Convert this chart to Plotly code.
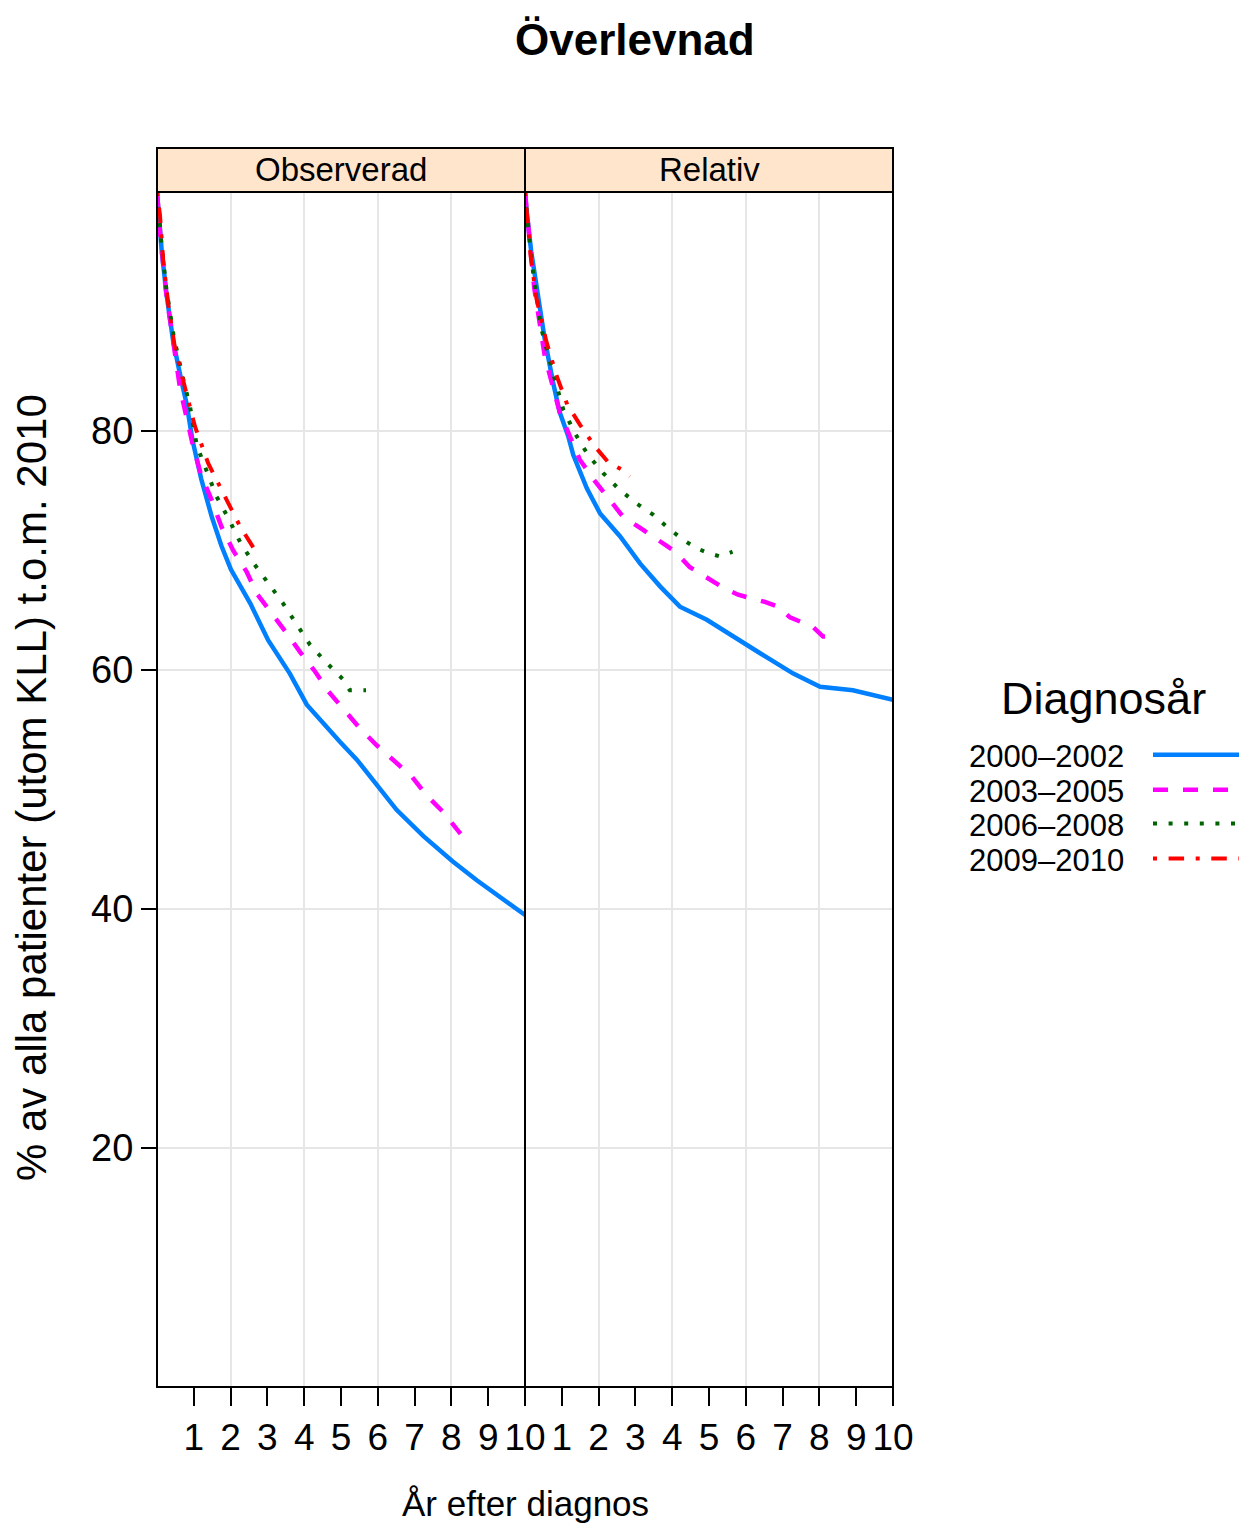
import plotly.graph_objects as go

# ---------------- data ----------------
PANELS = ["Observerad", "Relativ"]
SERIES = ["2000–2002", "2003–2005", "2006–2008", "2009–2010"]
X_TICKS = [1, 2, 3, 4, 5, 6, 7, 8, 9, 10]
X_GRID = [2, 4, 6, 8]
Y_TICKS = [20, 40, 60, 80]

# Observerad
obs_t_2000 = [0, 0.05, 0.13, 0.26, 0.44, 0.67, 0.81, 0.96, 1.2, 1.49, 1.75, 2.01, 2.53, 3.02, 3.61,
              4.07, 4.52, 4.97, 5.43, 6.01, 6.51, 7.24, 8.03, 8.69, 9.41, 10.0]
obs_v_2000 = [100, 97.5, 95.0, 91.4, 87.5, 84.1, 82.2, 79.3, 76.0, 72.8, 70.4, 68.4, 65.6, 62.5, 59.7,
              57.1, 55.5, 54.0, 52.5, 50.2, 48.3, 46.1, 44.0, 42.4, 40.8, 39.5]
obs_t_2003 = [0, 0.1, 0.25, 0.45, 0.63, 0.99, 1.21, 1.49, 1.75, 2.07, 2.44, 2.71, 3.12, 3.52, 3.89,
              4.29, 4.66, 5.07, 5.52, 5.97, 6.42, 6.92, 7.33, 7.78, 8.14, 8.25]
obs_v_2003 = [100, 96.0, 91.5, 87.0, 83.5, 78.6, 76.2, 74.2, 72.0, 70.0, 68.2, 66.4, 64.8, 63.1, 61.5,
              59.9, 58.2, 56.7, 55.1, 53.7, 52.5, 51.1, 49.5, 48.1, 46.7, 46.3]
obs_t_2006 = [0, 0.1, 0.25, 0.45, 0.7, 0.9, 1.08, 1.35, 1.62, 1.94, 2.26, 2.61, 3.02, 3.42, 3.8,
              4.16, 4.61, 5.06, 5.24, 5.68]
obs_v_2006 = [100, 96.3, 92.0, 88.0, 84.5, 82.0, 78.8, 76.6, 74.5, 72.7, 70.7, 69.0, 67.3, 65.6, 63.8,
              62.1, 60.6, 59.2, 58.3, 58.3]
obs_t_2009 = [0, 0.08, 0.17, 0.31, 0.49, 0.76, 1.03, 1.39, 1.85, 2.26, 2.75]
obs_v_2009 = [100, 98.1, 94.2, 90.5, 86.9, 83.6, 80.4, 77.3, 74.5, 72.0, 69.6]

# Relativ
rel_t_2000 = [0, 0.04, 0.17, 0.35, 0.53, 0.76, 0.94, 1.17, 1.31, 1.68, 2.04, 2.58, 3.13, 3.67, 4.21,
              4.94, 5.65, 6.39, 7.29, 8.02, 8.91, 9.5, 10.0]
rel_v_2000 = [100, 98.5, 95.0, 91.4, 87.8, 84.1, 81.6, 79.6, 78.0, 75.2, 73.1, 71.2, 68.9, 67.0, 65.3,
              64.2, 62.8, 61.4, 59.7, 58.6, 58.3, 57.9, 57.5]
rel_t_2003 = [0, 0.1, 0.25, 0.54, 0.95, 1.49, 1.90, 2.26, 2.67, 3.13, 3.58, 4.08, 4.48, 4.94, 5.38,
              5.79, 6.16, 6.52, 6.88, 7.2, 7.52, 7.83, 8.1, 8.51]
rel_v_2003 = [100, 96.5, 92.0, 86.2, 81.5, 77.6, 75.8, 74.4, 72.8, 71.9, 70.9, 69.9, 68.6, 67.7, 66.9,
              66.3, 66.0, 65.7, 65.3, 64.4, 64.0, 63.6, 62.8, 62.8]
rel_t_2006 = [0, 0.1, 0.25, 0.45, 0.72, 1.04, 1.36, 1.71, 2.12, 2.53, 3.0, 3.48, 3.85, 4.29, 4.66,
              4.97, 5.3, 5.64]
rel_v_2006 = [100, 96.5, 92.5, 88.5, 85.3, 81.8, 79.8, 78.0, 76.5, 75.2, 74.0, 73.0, 72.0, 70.9, 70.2,
              69.8, 69.5, 69.9]
rel_t_2009 = [0, 0.04, 0.155, 0.31, 0.58, 0.85, 1.15, 1.5, 1.9, 2.26, 2.67, 2.85]
rel_v_2009 = [100, 98.4, 94.6, 91.1, 87.5, 84.7, 82.2, 80.5, 78.7, 77.4, 76.7, 76.2]

# ---------------- styling ----------------
COLORS = ["#0080ff", "#ff00ff", "#006400", "#ff0000"]
DASHES = ["solid", "15px,15px", "4px,11.6px", "4px,11.6px,15.5px,11.6px"]
WIDTHS = [4.5, 4.5, 4, 4]
FONT = "Liberation Sans, Arial, Helvetica, sans-serif"

OFF = 8  # page body margin in the browser
W, H = 1247 - OFF, 1531 - OFF
L, R, T, B = 157 - OFF, 354, 148 - OFF, 144
PLOT_TOP_PX = 192 - OFF
PW = W - L - R
PH = H - T - B


def px_x(px):
    return (px - OFF - L) / PW


def px_y(py):
    return (H - B - (py - OFF)) / PH


y_top = (H - B - PLOT_TOP_PX) / PH

panel_data = {
    "Observerad": [(obs_t_2000, obs_v_2000), (obs_t_2003, obs_v_2003),
                   (obs_t_2006, obs_v_2006), (obs_t_2009, obs_v_2009)],
    "Relativ": [(rel_t_2000, rel_v_2000), (rel_t_2003, rel_v_2003),
                (rel_t_2006, rel_v_2006), (rel_t_2009, rel_v_2009)],
}

fig = go.Figure()
for pi, panel in enumerate(PANELS):
    xa = "x" if pi == 0 else "x2"
    for si, (t, v) in enumerate(panel_data[panel]):
        fig.add_trace(go.Scatter(
            x=t, y=v, xaxis=xa, yaxis="y", mode="lines", name=SERIES[si],
            showlegend=False,
            line=dict(color=COLORS[si], width=WIDTHS[si], dash=DASHES[si]),
        ))

xcommon = dict(range=[0, 10], tickmode="array", tickvals=X_TICKS, ticks="outside",
               ticklen=18, tickwidth=2, tickcolor="black", showgrid=False, zeroline=False,
               showline=False, tickfont=dict(family=FONT, size=37, color="black"),
               minor=dict(tickmode="array", tickvals=X_GRID, ticks="", showgrid=True,
                          gridcolor="#e6e6e6", gridwidth=2),
               anchor="y", fixedrange=True)
fig.update_layout(
    xaxis=dict(domain=[0, 0.5], **xcommon),
    xaxis2=dict(domain=[0.5, 1], **xcommon),
    xaxis3=dict(overlaying="x", side="top", anchor="free", position=1.0, range=[0, 10],
                tickmode="array", tickvals=X_TICKS, ticks="outside", ticklen=18, tickwidth=2,
                tickcolor="black", showticklabels=False, showgrid=False, zeroline=False),
    xaxis4=dict(overlaying="x2", side="top", anchor="free", position=1.0, range=[0, 10],
                tickmode="array", tickvals=X_TICKS, ticks="outside", ticklen=18, tickwidth=2,
                tickcolor="black", showticklabels=False, showgrid=False, zeroline=False),
    yaxis=dict(domain=[0, y_top], range=[0, 100], tickmode="array", tickvals=Y_TICKS,
               ticks="outside", ticklen=15, tickwidth=2, tickcolor="black", showgrid=True,
               gridcolor="#e6e6e6", gridwidth=2, zeroline=False, showline=False,
               tickfont=dict(family=FONT, size=38, color="black"), anchor="x"),
    yaxis2=dict(overlaying="y", side="right", anchor="x2", range=[0, 100], tickmode="array",
                tickvals=Y_TICKS, ticks="outside", ticklen=15, tickwidth=2, tickcolor="black",
                showticklabels=False, showgrid=False, zeroline=False),
    width=W, height=H, margin=dict(l=L, r=R, t=T, b=B),
    paper_bgcolor="white", plot_bgcolor="white", showlegend=False,
)

shapes = []
annotations = []
for pi, panel in enumerate(PANELS):
    x0, x1 = pi * 0.5, (pi + 1) * 0.5
    shapes.append(dict(type="rect", xref="paper", yref="paper", x0=x0, x1=x1, y0=y_top, y1=1,
                       fillcolor="#ffe5cc", line=dict(color="black", width=2), layer="below"))
    shapes.append(dict(type="rect", xref="paper", yref="paper", x0=x0, x1=x1, y0=y_top, y1=1,
                       fillcolor="rgba(0,0,0,0)", line=dict(color="black", width=2)))
    shapes.append(dict(type="rect", xref="paper", yref="paper", x0=x0, x1=x1, y0=0, y1=y_top,
                       fillcolor="rgba(0,0,0,0)", line=dict(color="black", width=2)))
    annotations.append(dict(text=panel, xref="paper", yref="paper", x=(x0 + x1) / 2,
                            y=(y_top + 1) / 2, showarrow=False, xanchor="center", yanchor="middle",
                            font=dict(family=FONT, size=33, color="black")))

annotations.append(dict(text="<b>Överlevnad</b>", xref="paper", yref="paper", x=px_x(635),
                        y=px_y(40), showarrow=False, xanchor="center", yanchor="middle",
                        font=dict(family=FONT, size=44, color="black")))
annotations.append(dict(text="År efter diagnos", xref="paper", yref="paper", x=px_x(525),
                        y=px_y(1503), showarrow=False, xanchor="center", yanchor="middle",
                        font=dict(family=FONT, size=35, color="black")))
annotations.append(dict(text="% av alla patienter (utom KLL) t.o.m. 2010", xref="paper",
                        yref="paper", x=px_x(31), y=px_y(788), showarrow=False, textangle=-90,
                        xanchor="center", yanchor="middle",
                        font=dict(family=FONT, size=42, color="black")))

# legend (key drawn to the right of the labels, as in the reference)
annotations.append(dict(text="Diagnosår", xref="paper", yref="paper", x=px_x(1103),
                        y=px_y(698), showarrow=False, xanchor="center", yanchor="middle",
                        font=dict(family=FONT, size=45, color="black")))
leg_text_y = [756.7, 791.7, 825.5, 860.5]
for si, name in enumerate(SERIES):
    annotations.append(dict(text=name, xref="paper", yref="paper", x=px_x(967),
                            y=px_y(leg_text_y[si]), showarrow=False, xanchor="left",
                            yanchor="middle", font=dict(family=FONT, size=31, color="black")))
    shapes.append(dict(type="line", xref="paper", yref="paper", x0=px_x(1153), x1=px_x(1240),
                       y0=px_y(leg_text_y[si] - 2), y1=px_y(leg_text_y[si] - 2),
                       line=dict(color=COLORS[si], width=WIDTHS[si], dash=DASHES[si])))

fig.update_layout(shapes=shapes, annotations=annotations)
fig.write_html("out.html")
